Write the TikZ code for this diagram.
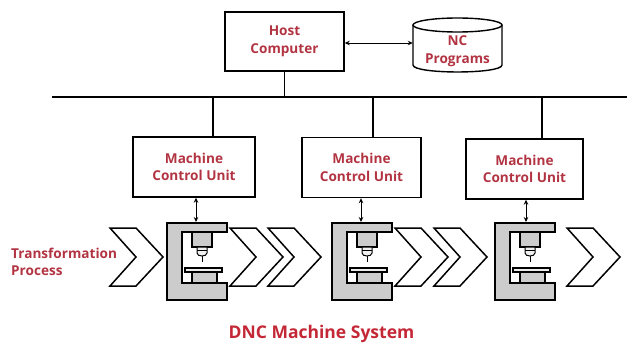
\documentclass[tikz,border=0pt]{standalone}
\usepackage{fontspec}
\setmainfont{Open Sans}
\usetikzlibrary{arrows.meta}
\definecolor{lbl}{RGB}{178,52,66}
\definecolor{ttl}{RGB}{196,40,54}
\definecolor{metal}{RGB}{204,204,204}
\begin{document}
\begin{tikzpicture}[x=1pt,y=-1pt,
  box/.style={draw, line width=1.4pt, inner sep=0pt, align=center, text=lbl,
    font=\bfseries\fontsize{13.6}{17.5}\selectfont},
  lbltext/.style={text=lbl, align=center, inner sep=0pt, font=\bfseries\fontsize{13.6}{17.5}\selectfont},
  wire/.style={line width=1.3pt},
  dblarrow/.style={line width=0.9pt, {Stealth[length=5pt,width=4.5pt]}-{Stealth[length=5pt,width=4.5pt]}},
  chev/.pic={\draw[line width=1.5pt, line join=miter, fill=white]
     (0,0) -- (26,0) -- (53,29) -- (26,58) -- (0,58) -- (26,29) -- cycle;},
  mill/.pic={
     \filldraw[fill=metal, line width=1.8pt, line join=miter]
        (0,0) -- (60,0) -- (60,9) -- (15,9) -- (15,60) -- (60,60) -- (60,77) -- (0,77) -- cycle;
     \filldraw[fill=metal, line width=1.2pt] (25,9) rectangle (45,24);
     \filldraw[fill=gray!12, line width=1pt] (30,24) -- (30,30) .. controls (30,34) and (40,34) .. (40,30) -- (40,24) -- cycle;
     \draw[line width=0.8pt] (30,27.5) -- (40,27.5);
     \draw[line width=1pt] (35,33) -- (35,39);
     \filldraw[fill=gray!15, line width=1.2pt] (18,45) rectangle (55,49);
     \filldraw[fill=metal, line width=1.2pt] (25,49) rectangle (50,60);
  }]
\useasboundingbox (0,0) rectangle (627,343);

% Host computer and NC programs
\node[box, minimum width=119pt, minimum height=59pt] (host) at (284.5,41.5) {Host\\Computer};
\node[minimum width=89pt, minimum height=54pt, inner sep=0pt] (nc) at (457.5,45) {};
\filldraw[fill=white, line width=1.4pt] (413,25) -- (413,65) .. controls (413,74.3) and (502,74.3) .. (502,65) -- (502,25);
\draw[line width=1.4pt, fill=white] (457.5,25) ellipse [x radius=44.5, y radius=7];
\node[lbltext] (nctext) at (457.5,51) {NC\\Programs};
\draw[dblarrow] (host.east |- 0,43) -- (nc.west |- 0,43);

% bus
\coordinate (busL) at (52,97);
\coordinate (busR) at (627,97);
\draw[wire] (busL) -- (busR);
\draw[wire] (host.south) -- (host.south |- busL);

% machine control units
\node[box, minimum width=122pt, minimum height=60pt] (m1) at (194,167) {Machine\\Control Unit};
\node[box, minimum width=119pt, minimum height=60pt] (m2) at (361.5,167.5) {Machine\\Control Unit};
\node[box, minimum width=117pt, minimum height=60pt] (m3) at (524.5,169) {Machine\\Control Unit};
\coordinate (d1) at (213,97);
\coordinate (d2) at (373,97);
\coordinate (d3) at (542,97);
\draw[wire] (d1) -- (d1 |- m1.north);
\draw[wire] (d2) -- (d2 |- m2.north);
\draw[wire] (d3) -- (d3 |- m3.north);

% chevrons
\pic at (110,228) {chev};
\pic at (230,228) {chev};
\pic at (268,228) {chev};
\pic at (395,228) {chev};
\pic at (434,228) {chev};
\pic at (567,228) {chev};

% machines
\pic at (167,223) {mill};
\pic at (332,223) {mill};
\pic at (495,223) {mill};
\coordinate (mt1) at (196,222);
\coordinate (mt2) at (361,222);
\coordinate (mt3) at (526,222);
\draw[dblarrow] (mt1 |- m1.south) -- (mt1);
\draw[dblarrow] (mt2 |- m2.south) -- (mt2);
\draw[dblarrow] (mt3 |- m3.south) -- (mt3);

% texts
\node[anchor=west, align=left, text=lbl, inner sep=0pt, font=\bfseries\fontsize{13.6}{17.5}\selectfont] (tp) at (11,262) {Transformation\\Process};
\node[text=ttl, inner sep=0pt, font=\bfseries\fontsize{17.5}{20}\selectfont] (title) at (321.5,334) {DNC Machine System};
\end{tikzpicture}
\end{document}
